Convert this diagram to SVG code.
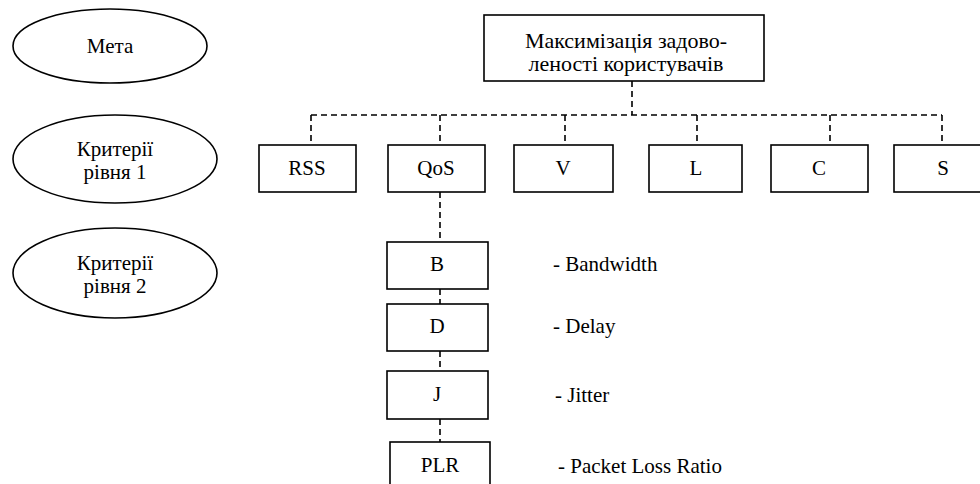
<svg xmlns="http://www.w3.org/2000/svg" width="980" height="484" viewBox="0 0 980 484">
<style>
.n{fill:#fff;stroke:#000;stroke-width:1.6}
.t{text-anchor:middle}
.c{fill:none;stroke:#000;stroke-width:1.6;stroke-dasharray:6,4}
</style>
<rect width="980" height="484" fill="#fff"/>
<g id="connectors">
<path class="c" d="M632,81V115"/>
<path class="c" d="M311,115H942"/>
<path class="c" d="M311,115V145M440,115V145M565,115V145M697,115V145M830,115V145M942,115V145"/>
<path class="c" d="M440,192V242M440,289V304M440,351V371M440,419V442"/>
</g>
<g id="goal-label"><ellipse class="n" cx="110" cy="46" rx="97" ry="37"/><text class="t" font-family="Liberation Serif, serif" font-size="21" x="110" y="53">Мета</text></g>
<g id="level1-label"><ellipse class="n" cx="115" cy="159" rx="102" ry="44"/><text class="t" font-family="Liberation Serif, serif" font-size="21" x="115" y="156">Критерії</text><text class="t" font-family="Liberation Serif, serif" font-size="21" x="115" y="179">рівня 1</text></g>
<g id="level2-label"><ellipse class="n" cx="115" cy="273" rx="102" ry="45"/><text class="t" font-family="Liberation Serif, serif" font-size="21" x="115" y="270">Критерії</text><text class="t" font-family="Liberation Serif, serif" font-size="21" x="115" y="293">рівня 2</text></g>
<g id="goal"><rect class="n" x="484" y="15" width="280" height="66"/><text class="t" font-family="Liberation Serif, serif" font-size="22" x="626" y="48">Максимізація задово-</text><text class="t" font-family="Liberation Serif, serif" font-size="22" x="626" y="71">леності користувачів</text></g>
<g id="RSS"><rect class="n" x="259" y="145" width="97" height="47"/><text class="t" font-family="Liberation Serif, serif" font-size="21" x="307" y="175">RSS</text></g>
<g id="QoS"><rect class="n" x="388" y="145" width="97" height="47"/><text class="t" font-family="Liberation Serif, serif" font-size="21" x="436" y="175">QoS</text></g>
<g id="V"><rect class="n" x="514" y="145" width="99" height="47"/><text class="t" font-family="Liberation Serif, serif" font-size="21" x="563" y="175">V</text></g>
<g id="L"><rect class="n" x="649" y="145" width="93" height="47"/><text class="t" font-family="Liberation Serif, serif" font-size="21" x="696" y="175">L</text></g>
<g id="C"><rect class="n" x="771" y="145" width="97" height="47"/><text class="t" font-family="Liberation Serif, serif" font-size="21" x="819" y="175">C</text></g>
<g id="S"><rect class="n" x="894" y="145" width="100" height="47"/><text class="t" font-family="Liberation Serif, serif" font-size="21" x="943" y="175">S</text></g>
<g id="B"><rect class="n" x="387" y="242" width="101" height="47"/><text class="t" font-family="Liberation Serif, serif" font-size="21" x="437" y="271">B</text><text font-family="Liberation Serif, serif" font-size="21" x="553" y="271">- Bandwidth</text></g>
<g id="D"><rect class="n" x="387" y="304" width="101" height="47"/><text class="t" font-family="Liberation Serif, serif" font-size="21" x="437" y="333">D</text><text font-family="Liberation Serif, serif" font-size="21" x="553" y="333">- Delay</text></g>
<g id="J"><rect class="n" x="387" y="371" width="101" height="48"/><text class="t" font-family="Liberation Serif, serif" font-size="21" x="437" y="401">J</text><text font-family="Liberation Serif, serif" font-size="21" x="555" y="402">- Jitter</text></g>
<g id="PLR"><rect class="n" x="390" y="442" width="100" height="50"/><text class="t" font-family="Liberation Serif, serif" font-size="21" x="440" y="472">PLR</text><text font-family="Liberation Serif, serif" font-size="21" x="558" y="473">- Packet Loss Ratio</text></g>
</svg>
